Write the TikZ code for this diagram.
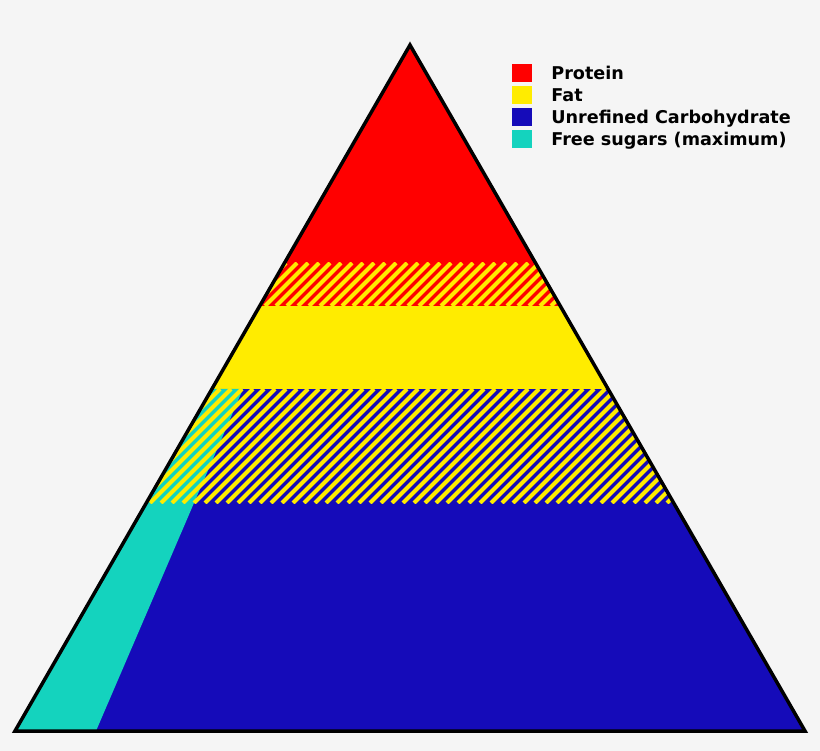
\documentclass[tikz,border=0pt]{standalone}
\usepackage{fontspec}
\setmainfont{DejaVu Sans}
\definecolor{bg}{HTML}{F5F5F5}
\definecolor{protein}{HTML}{FF0000}
\definecolor{fat}{HTML}{FFEC00}
\definecolor{carb}{HTML}{150BB9}
\definecolor{sugar}{HTML}{14D3BE}
\tikzset{legbox/.style = {fill=#1, minimum width=20pt, minimum height=18pt, inner sep=0pt}}
\tikzset{legtext/.style = {anchor=base west, inner sep=0pt, font=\fontsize{17.6}{21}\selectfont\bfseries}}
\tikzset{stripe/.style = {fat, line width=3.9pt}}

\begin{document}
\begin{tikzpicture}[x=1pt, y=-1pt]
\fill[bg] (0,0) rectangle (820,751);
\coordinate (top) at (410,45);
\coordinate (left) at (15,731);
\coordinate (right) at (805,731);
\begin{scope}
\clip (top) -- (left) -- (right) -- cycle;
\fill[protein] (0,0) rectangle (820,306);
\begin{scope}
\clip (0,263) rectangle (820,306);
\foreach \x in {0,11,...,900} \draw[stripe] (\x-43,306) -- (\x,263);
\end{scope}
\fill[fat] (0,306) rectangle (820,389);
\fill[carb] (0,389) rectangle (820,751);
\fill[sugar] (0,389) -- (243,389) -- (96,731) -- (0,731) -- cycle;
\begin{scope}
\clip (0,389) rectangle (820,503);
\foreach \x in {0,11,...,946} \draw[stripe] (\x-114,503) -- (\x,389);
\end{scope}
\end{scope}
\draw[line width=3.5pt] (top) -- (left) -- (right) -- cycle;
\node[legbox=protein] (kprotein) at (522,73) {};
\node[legbox=fat] (kfat) at (522,95) {};
\node[legbox=carb] (kcarb) at (522,117) {};
\node[legbox=sugar] (ksugar) at (522,139) {};
\node[legtext] (lprotein) at ([xshift=19pt, yshift=-6.4pt]kprotein.east) {Protein};
\node[legtext] (lfat) at ([xshift=19pt, yshift=-6.4pt]kfat.east) {Fat};
\node[legtext] (lcarb) at ([xshift=19pt, yshift=-6.4pt]kcarb.east) {Unrefined Carbohydrate};
\node[legtext] (lsugar) at ([xshift=19pt, yshift=-6.4pt]ksugar.east) {Free sugars (maximum)};
\end{tikzpicture}
\end{document}
